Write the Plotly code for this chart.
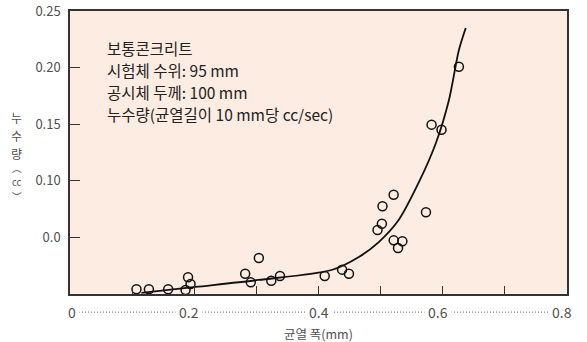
import plotly.graph_objects as go

# measured points: crack width (mm) vs leakage (cc)
crack_width = [0.107, 0.127, 0.158, 0.186, 0.190, 0.194, 0.282, 0.304, 0.291, 0.324,
               0.338, 0.410, 0.438, 0.449, 0.626, 0.582, 0.598, 0.521, 0.503, 0.502,
               0.495, 0.573, 0.521, 0.535, 0.528]
leakage = [0.0042, 0.0042, 0.0042, 0.0035, 0.0148, 0.0088, 0.0179, 0.0318, 0.0103, 0.0117,
           0.0159, 0.0159, 0.0215, 0.0179, 0.2008, 0.1496, 0.1451, 0.0877, 0.0775, 0.0621,
           0.0565, 0.0722, 0.0474, 0.0466, 0.0406]

# fitted curve
curve_x = [0.115, 0.202, 0.303, 0.421, 0.465, 0.497, 0.529, 0.561, 0.589, 0.610, 0.626, 0.637]
curve_y = [0.0009, 0.0062, 0.0124, 0.0212, 0.0327, 0.0459, 0.0654, 0.0981, 0.1334, 0.1714, 0.2155, 0.235]

y_tickvals = [0.05, 0.10, 0.15, 0.20, 0.25]
y_ticktext = ["0.0", "0.10", "0.15", "0.20", "0.25"]
x_tickvals = [0.1, 0.2, 0.3, 0.4, 0.5, 0.6, 0.7]
x_labelvals = [0, 0.2, 0.4, 0.6, 0.8]
x_labeltext = ["0", "0.2", "0.4", "0.6", "0.8"]

y_title_glyphs = ["누", "수", "량", "︵", "cc", "︶"]
note_lines = ["보통콘크리트", "시험체 수위: 95 mm", "공시체 두께: 100 mm", "누수량(균열길이 10 mm당 cc/sec)"]

FONT = "Noto Sans CJK KR"
GRAY = "#505050"
BG = "#fcece2"
LABEL_NUDGE = [2, -5, 0, -5, -5]  # horizontal pixel nudges of the x labels, as in the original artwork
GLYPH_Y = [0.622, 0.560, 0.498, 0.445, 0.396, 0.346]  # stacked vertical title placement (paper)
GLYPH_SIZE = [12, 12, 12, 9.5, 9.5, 9.5]

fig = go.Figure()
fig.add_trace(go.Scatter(x=curve_x, y=curve_y, mode="lines",
                         line=dict(color="#111111", width=1.8, shape="spline", smoothing=0.8),
                         hoverinfo="skip"))
fig.add_trace(go.Scatter(x=crack_width, y=leakage, mode="markers",
                         marker=dict(symbol="circle-open", size=9, color="#111111",
                                     line=dict(width=1.5, color="#111111"))))

fig.update_layout(
    width=587, height=342,
    margin=dict(l=70, r=20, t=11, b=48, autoexpand=False),
    paper_bgcolor="white", plot_bgcolor=BG,
    showlegend=False,
    font=dict(family=FONT, color=GRAY, size=12),
    xaxis=dict(range=[0, 0.8], tickvals=x_tickvals, ticks="inside", ticklen=8,
               tickcolor="#333333", tickwidth=1.2, showticklabels=False, automargin=False,
               showgrid=False, zeroline=False, showline=True, linecolor="#333333",
               linewidth=1.5, mirror=True),
    yaxis=dict(range=[0, 0.25], tickvals=y_tickvals, ticktext=y_ticktext, automargin=False,
               ticks="inside", ticklen=10, tickcolor="#333333", tickwidth=1.2,
               ticklabelstandoff=5, ticklabeloverflow="allow",
               showgrid=False, zeroline=False, showline=True, linecolor="#333333",
               linewidth=1.5, mirror=True, tickfont=dict(size=13, color=GRAY)),
)

# dotted leader behind x labels
fig.add_shape(type="line", xref="x", yref="paper", x0=0, x1=0.8, y0=-0.064, y1=-0.064,
              line=dict(color="#666666", width=1, dash="1px,2px"))
for v, t, dx in zip(x_labelvals, x_labeltext, LABEL_NUDGE):
    fig.add_annotation(x=v, y=-0.064, xref="x", yref="paper", text=t, showarrow=False,
                       xshift=dx, yanchor="middle", xanchor="center",
                       bgcolor="white", font=dict(size=14, color=GRAY), borderpad=3)

fig.add_annotation(x=0.5, y=-0.138, xref="paper", yref="paper", text="균열 폭(mm)",
                   showarrow=False, yanchor="middle", font=dict(size=12.5, color=GRAY))

for g, gy, gs in zip(y_title_glyphs, GLYPH_Y, GLYPH_SIZE):
    fig.add_annotation(x=-0.107, y=gy, xref="paper", yref="paper", xanchor="center",
                       yanchor="middle", text=g, showarrow=False,
                       font=dict(size=gs, color=GRAY))

for i, line in enumerate(note_lines):
    fig.add_annotation(x=0.07, y=0.87 - i * 0.078, xref="paper", yref="paper",
                       xanchor="left", yanchor="middle", text=line, showarrow=False,
                       font=dict(size=15.5, color="#222222"))

fig.write_html("out.html", config={"displayModeBar": False},
               post_script="document.body.style.margin='0';document.body.style.overflow='hidden';")
